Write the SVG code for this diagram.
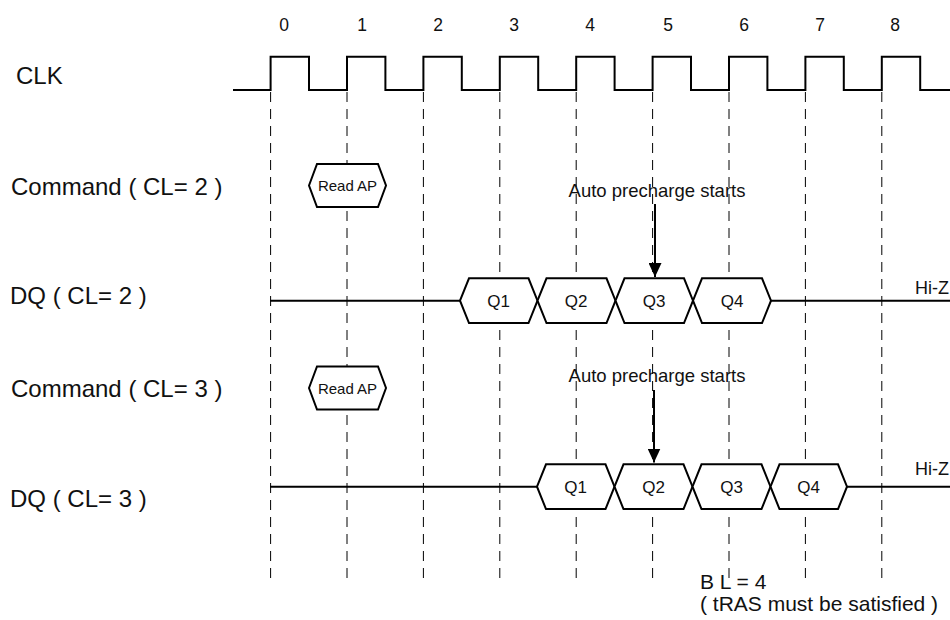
<svg xmlns="http://www.w3.org/2000/svg" width="950" height="620" viewBox="0 0 950 620">
<style>
text{font-family:"Liberation Sans",Arial,sans-serif;fill:#111}
.lbl{font-size:24px}
.num{font-size:17.5px;text-anchor:middle}
.cmd{font-size:15px;text-anchor:middle}
.q{font-size:17px;text-anchor:middle}
.note{font-size:18.5px;text-anchor:middle}
.hiz{font-size:18px}
.bl{font-size:21px}
.wave{fill:none;stroke:#000;stroke-width:2}
.grid{fill:none;stroke:#000;stroke-width:1;stroke-dasharray:10 7}
.hex{fill:#fff;stroke:#000;stroke-width:2;stroke-linejoin:miter}
.arr{stroke:#000;stroke-width:2}
</style>
<defs>
<marker id="ah" markerWidth="14" markerHeight="13" refX="14" refY="6.5" orient="auto" markerUnits="userSpaceOnUse" viewBox="0 0 14 13">
<path d="M0,0 L14,6.5 L0,13 Z" fill="#000"/>
</marker>
</defs>
<rect width="950" height="620" fill="#fff"/>

<g id="labels">
<text class="lbl" x="16" y="84">CLK</text>
<text class="lbl" x="11" y="195">Command ( CL= 2 )</text>
<text class="lbl" x="10" y="304">DQ ( CL= 2 )</text>
<text class="lbl" x="11" y="397">Command ( CL= 3 )</text>
<text class="lbl" x="10" y="507">DQ ( CL= 3 )</text>
</g>

<g id="cycle-numbers">
<text class="num" x="284" y="31">0</text>
<text class="num" x="362" y="31">1</text>
<text class="num" x="438" y="31">2</text>
<text class="num" x="514" y="31">3</text>
<text class="num" x="590" y="31">4</text>
<text class="num" x="668" y="31">5</text>
<text class="num" x="744" y="31">6</text>
<text class="num" x="820" y="31">7</text>
<text class="num" x="895" y="31">8</text>
</g>

<g id="grid">
<line class="grid" x1="270.6" y1="92" x2="270.6" y2="584"/>
<line class="grid" x1="347" y1="92" x2="347" y2="584"/>
<line class="grid" x1="423.4" y1="92" x2="423.4" y2="584"/>
<line class="grid" x1="499.8" y1="92" x2="499.8" y2="584"/>
<line class="grid" x1="576.2" y1="92" x2="576.2" y2="584"/>
<line class="grid" x1="652.6" y1="92" x2="652.6" y2="584"/>
<line class="grid" x1="729" y1="92" x2="729" y2="584"/>
<line class="grid" x1="805.4" y1="92" x2="805.4" y2="584"/>
<line class="grid" x1="881.8" y1="92" x2="881.8" y2="584"/>
</g>

<g id="clk">
<path class="wave" d="M233,90 H270.6 V56.7 H309 V90 H347 V56.7 H385.4 V90 H423.4 V56.7 H461.8 V90 H499.8 V56.7 H538.2 V90 H576.2 V56.7 H614.6 V90 H652.6 V56.7 H691 V90 H729 V56.7 H767.4 V90 H805.4 V56.7 H843.8 V90 H881.8 V56.7 H920.2 V90 H950"/>
</g>

<g id="cmd-cl2">
<polygon class="hex" points="309,185.5 317,164 378,164 386,185.5 378,207 317,207"/>
<text class="cmd" x="347.5" y="191">Read AP</text>
</g>

<g id="cmd-cl3">
<polygon class="hex" points="309,388 317,366.5 378,366.5 386,388 378,409.5 317,409.5"/>
<text class="cmd" x="347.5" y="393.5">Read AP</text>
</g>

<g id="dq-cl2">
<path class="wave" d="M270,300.7 H460 M771,300.7 H950"/>
<g id="dq2-q1"><polygon class="hex" points="460,300.7 469,278.3 528.5,278.3 537.5,300.7 528.5,323.1 469,323.1"/><text class="q" x="498.5" y="307">Q1</text></g>
<g id="dq2-q2"><polygon class="hex" points="537.5,300.7 546.5,278.3 606.5,278.3 615.5,300.7 606.5,323.1 546.5,323.1"/><text class="q" x="576" y="307">Q2</text></g>
<g id="dq2-q3"><polygon class="hex" points="615.5,300.7 624.5,278.3 684,278.3 693,300.7 684,323.1 624.5,323.1"/><text class="q" x="654" y="307">Q3</text></g>
<g id="dq2-q4"><polygon class="hex" points="693,300.7 702,278.3 762,278.3 771,300.7 762,323.1 702,323.1"/><text class="q" x="732" y="307">Q4</text></g>
<text class="hiz" x="915" y="294">Hi-Z</text>
</g>

<g id="dq-cl3">
<path class="wave" d="M270,486.7 H537 M847,486.7 H950"/>
<g id="dq3-q1"><polygon class="hex" points="537,486.7 546,464.3 605.5,464.3 614.5,486.7 605.5,509.1 546,509.1"/><text class="q" x="575.5" y="493">Q1</text></g>
<g id="dq3-q2"><polygon class="hex" points="614.5,486.7 623.5,464.3 683.5,464.3 692.5,486.7 683.5,509.1 623.5,509.1"/><text class="q" x="653.5" y="493">Q2</text></g>
<g id="dq3-q3"><polygon class="hex" points="692.5,486.7 701.5,464.3 761.5,464.3 770.5,486.7 761.5,509.1 701.5,509.1"/><text class="q" x="731.5" y="493">Q3</text></g>
<g id="dq3-q4"><polygon class="hex" points="770.5,486.7 779.5,464.3 838,464.3 847,486.7 838,509.1 779.5,509.1"/><text class="q" x="808.5" y="493">Q4</text></g>
<text class="hiz" x="915" y="475">Hi-Z</text>
</g>

<g id="notes">
<text class="note" x="657" y="197">Auto precharge starts</text>
<text class="note" x="657" y="382">Auto precharge starts</text>
<text class="bl" x="700" y="589">B L = 4</text>
<text class="bl" x="700" y="611">( tRAS must be satisfied )</text>
</g>

<g id="connectors">
<line class="arr" x1="655" y1="204" x2="655" y2="277" marker-end="url(#ah)"/>
<line class="arr" x1="654" y1="390" x2="654" y2="462.5" marker-end="url(#ah)"/>
</g>
</svg>
